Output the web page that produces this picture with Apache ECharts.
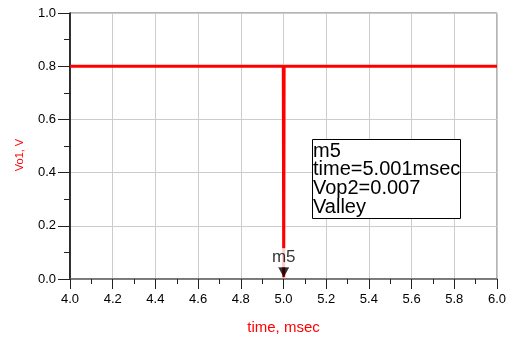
<!DOCTYPE html>
<html><head><meta charset="utf-8">
<script src="https://cdn.jsdelivr.net/npm/echarts@6/dist/echarts.min.js"></script>
<style>html,body{margin:0;padding:0;background:#fff}#c{width:509px;height:338px}</style>
</head><body><div id="c"></div>
<script>
// Data
var timeMs = [4.0, 4.999, 5.001, 5.003, 6.0];
var vo1 = [0.8, 0.8, 0.007, 0.8, 0.8];
var markerPoint = [5.001, 0.007];
var markerName = 'm5';
var markerLines = ['m5', 'time=5.001msec', 'Vop2=0.007', 'Valley'];
var xTicks = [4.0, 4.2, 4.4, 4.6, 4.8, 5.0, 5.2, 5.4, 5.6, 5.8, 6.0];
var yTicks = [0.0, 0.2, 0.4, 0.6, 0.8, 1.0];

var font = 'Liberation Sans, Arial, sans-serif';
var chart = echarts.init(document.getElementById('c'), null, {renderer: 'canvas'});
chart.setOption({
  animation: false,
  grid: {left: 70, right: 12, top: 13, bottom: 59, outerBoundsMode: 'none', containLabel: false,
    show: true, borderColor: '#666', borderWidth: 1},
  xAxis: {
    type: 'value', min: xTicks[0], max: xTicks[xTicks.length - 1], interval: 0.2,
    name: 'time, msec', nameLocation: 'middle', nameGap: 41,
    nameTextStyle: {color: '#ff0000', fontSize: 15, fontFamily: font},
    axisLine: {show: true, onZero: false, lineStyle: {color: '#666', width: 1.5}},
    axisTick: {show: true, inside: false, length: 10, lineStyle: {color: '#222', width: 1}},
    minorTick: {show: true, splitNumber: 2, length: 5, lineStyle: {color: '#222', width: 1}},
    axisLabel: {color: '#000', fontSize: 13, fontFamily: font, margin: 14, formatter: function (v) { return v.toFixed(1); }},
    splitLine: {show: true, lineStyle: {color: '#cccccc', width: 1}}
  },
  yAxis: {
    type: 'value', min: yTicks[0], max: yTicks[yTicks.length - 1], interval: 0.2,
    name: 'Vo1, V', nameLocation: 'middle', nameGap: 45,
    nameTextStyle: {color: '#ff0000', fontSize: 11, fontFamily: font, padding: [0, 18, 0, 0]},
    axisLine: {show: true, onZero: false, lineStyle: {color: '#000', width: 1.5}},
    axisTick: {show: true, inside: false, length: 12, lineStyle: {color: '#222', width: 1}},
    minorTick: {show: true, splitNumber: 2, length: 6, lineStyle: {color: '#222', width: 1}},
    axisLabel: {color: '#000', fontSize: 13, fontFamily: font, margin: 14, formatter: function (v) { return v.toFixed(1); }},
    splitLine: {show: true, lineStyle: {color: '#cccccc', width: 1}}
  },
  series: [
    {
      type: 'line', data: timeMs.map(function (t, i) { return [t, vo1[i]]; }),
      showSymbol: false, symbol: 'none',
      lineStyle: {color: '#ff0000', width: 3}, z: 3
    },
    {
      type: 'scatter', data: [markerPoint],
      symbol: 'triangle', symbolRotate: 180, symbolSize: [11, 10], symbolOffset: [0, -5],
      itemStyle: {color: '#000'}, z: 5,
      label: {show: true, formatter: markerName, position: 'top', distance: 0, color: '#000', fontSize: 17, fontFamily: font,
        backgroundColor: '#fff', padding: [1, 1, 1, 1]}
    }
  ],
  graphic: [
    {type: 'rect', left: 312, top: 139, shape: {width: 148, height: 79}, style: {fill: '#fff', stroke: '#000', lineWidth: 1}, z: 10},
    {type: 'text', left: 313, top: 141, z: 11, style: {text: markerLines.join('\n'), fill: '#000', fontSize: 20, lineHeight: 18.7, fontFamily: font}}
  ]
});
</script></body></html>
